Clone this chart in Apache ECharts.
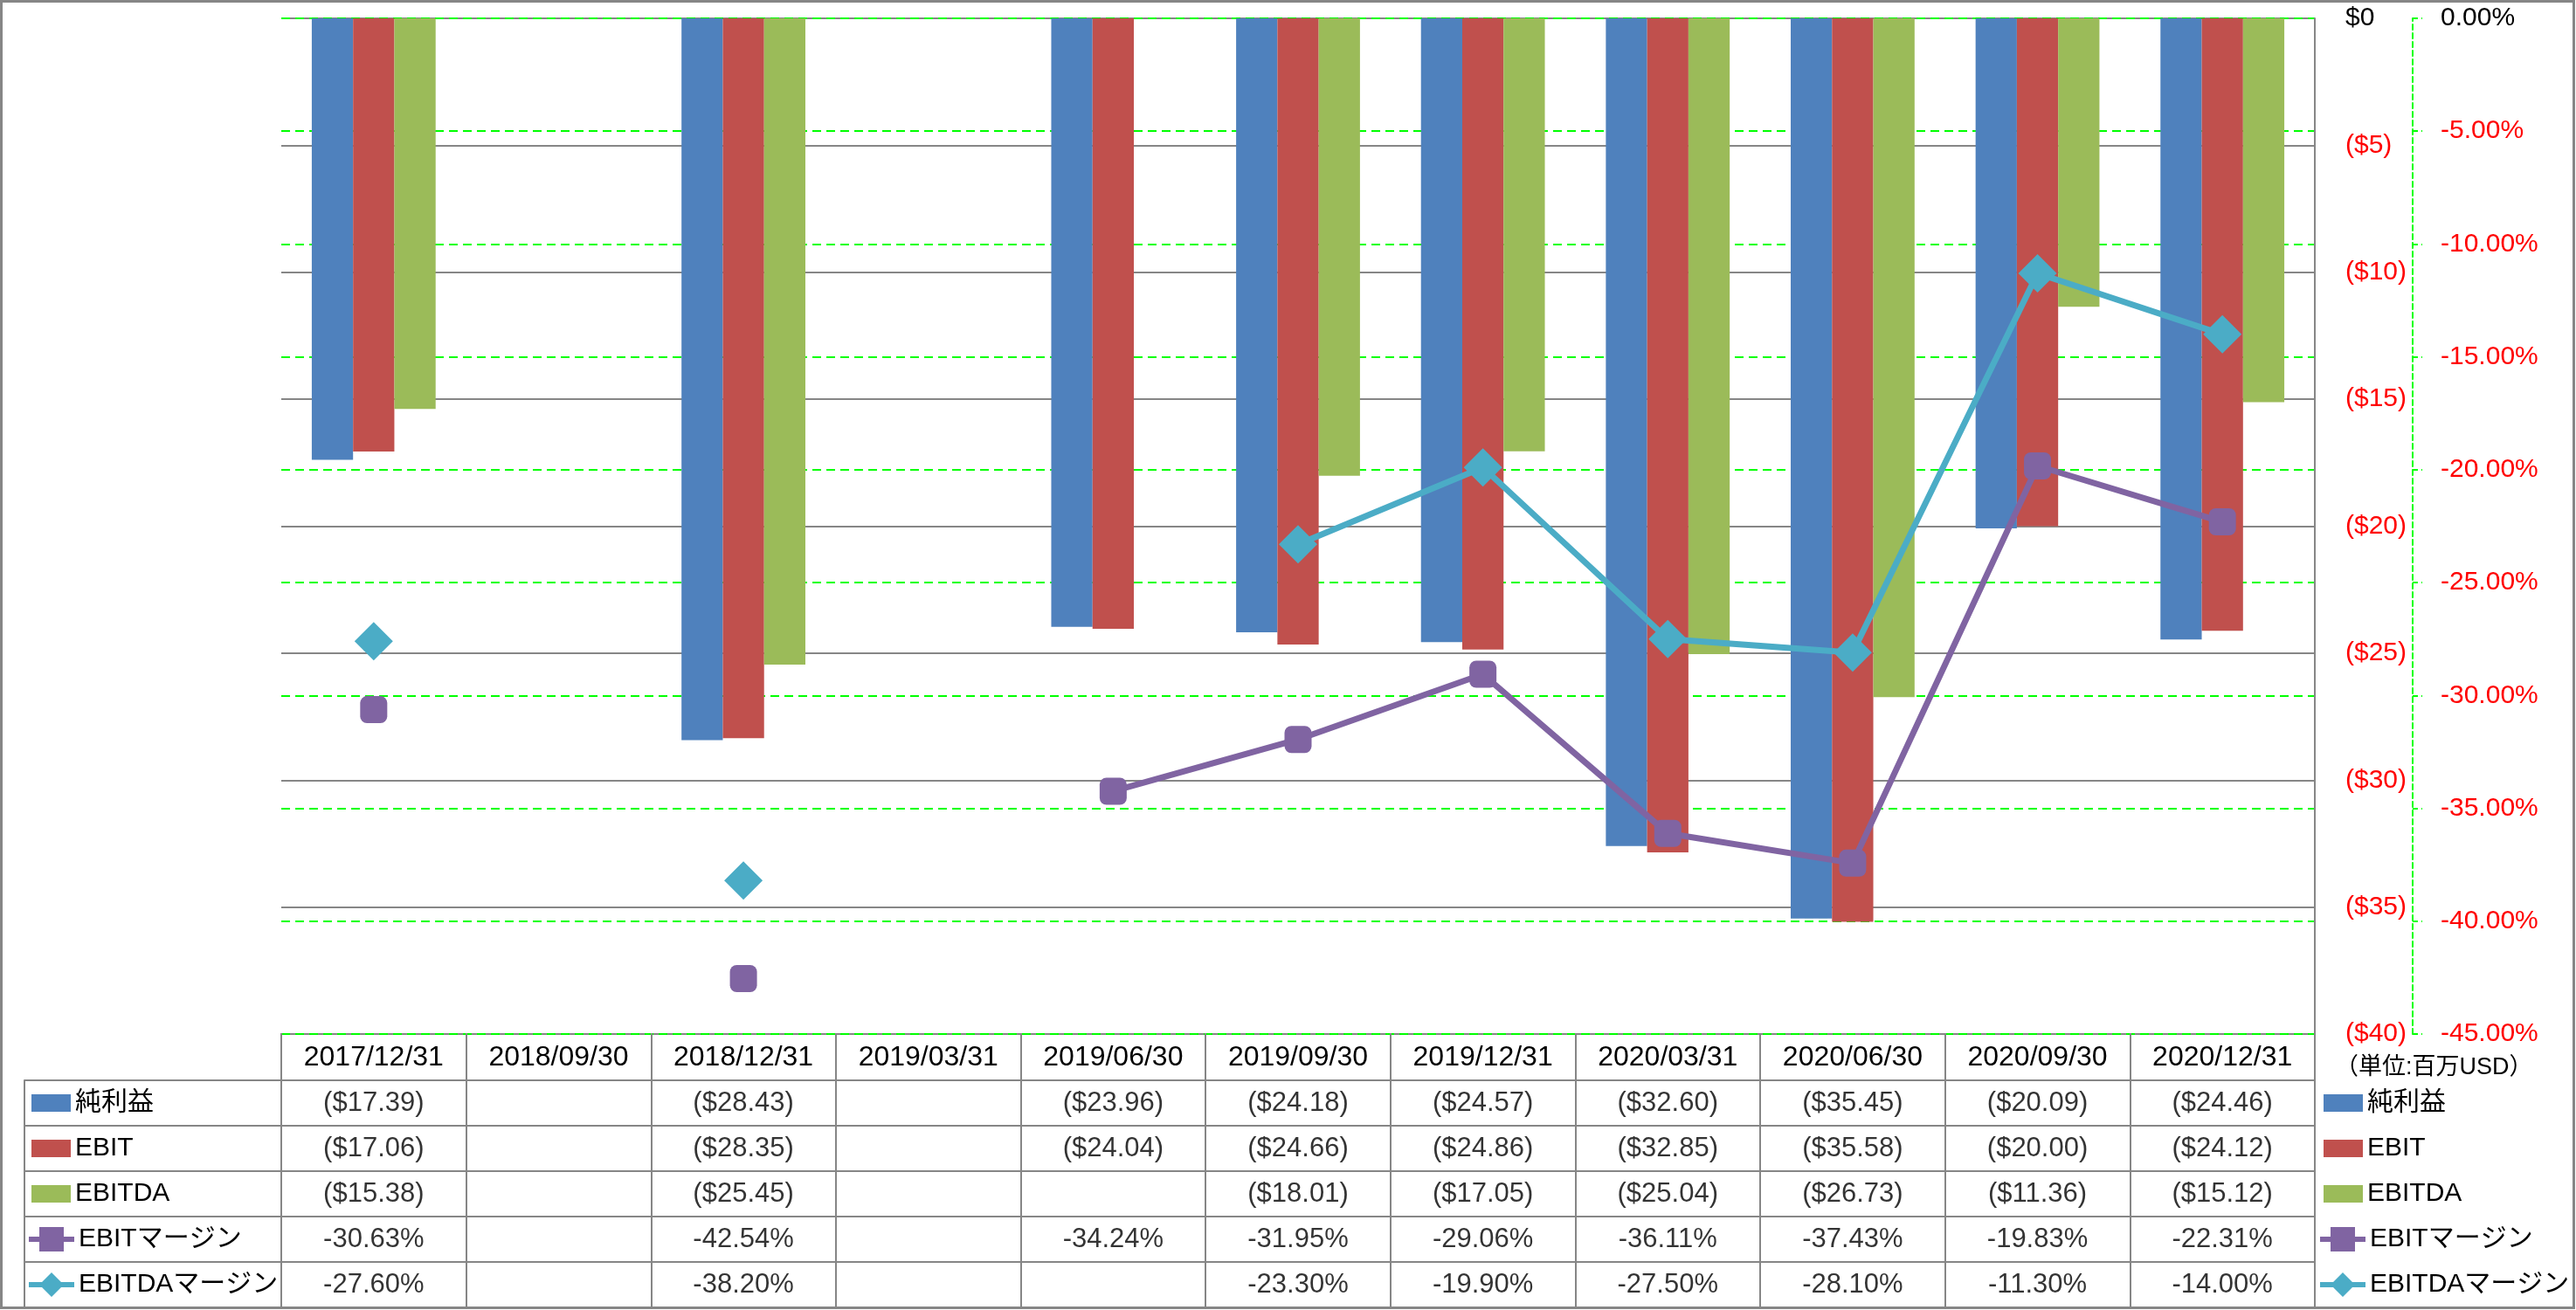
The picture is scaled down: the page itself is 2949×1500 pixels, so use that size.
<!DOCTYPE html>
<html>
<head>
<meta charset="utf-8">
<script src="https://cdn.jsdelivr.net/npm/echarts@6/dist/echarts.min.js"></script>
<style>
  html, body { margin: 0; padding: 0; background: #fff; }
  #chart { width: 2949px; height: 1500px; }
</style>
</head>
<body>
<div id="chart"></div>
<script>
const categories = ['2017/12/31', '2018/09/30', '2018/12/31', '2019/03/31', '2019/06/30', '2019/09/30',
  '2019/12/31', '2020/03/31', '2020/06/30', '2020/09/30', '2020/12/31']
const netIncome = [-17.39, null, -28.43, null, -23.96, -24.18, -24.57, -32.60, -35.45, -20.09, -24.46]
const ebit = [-17.06, null, -28.35, null, -24.04, -24.66, -24.86, -32.85, -35.58, -20.00, -24.12]
const ebitda = [-15.38, null, -25.45, null, null, -18.01, -17.05, -25.04, -26.73, -11.36, -15.12]
const ebitMargin = [-30.63, null, -42.54, null, -34.24, -31.95, -29.06, -36.11, -37.43, -19.83, -22.31]
const ebitdaMargin = [-27.60, null, -38.20, null, null, -23.30, -19.90, -27.50, -28.10, -11.30, -14.00]
const seriesNames = ['純利益', 'EBIT', 'EBITDA', 'EBITマージン', 'EBITDAマージン']
const unitLabel = '（単位:百万USD）'

const FONT = '"Liberation Sans", "Noto Sans CJK JP", sans-serif'
const GRAY = '#868686'
const GREEN = '#00FF00'

const money = v => v < 0 ? '($' + Math.abs(v).toFixed(2) + ')' : '$' + v.toFixed(2)
const pct = v => v.toFixed(2) + '%'

// table cells: one text per (column, row)
const tableRows = [
  [netIncome, money], [ebit, money], [ebitda, money], [ebitMargin, pct], [ebitdaMargin, pct]
]
const tableCells = []
tableRows.forEach(([arr, fmt], r) => {
  arr.forEach((v, c) => {
    if (v !== null) tableCells.push({ value: [c, r], txt: fmt(v) })
  })
})

// legend icons for the line series: line through a square / diamond
const squareIcon = 'path://M0,11L12,11L12,0L40,0L40,11L52,11L52,17L40,17L40,28L12,28L12,17L0,17Z'
const diamondIcon = 'path://M0,11L15,11L26,0L37,11L52,11L52,17L37,17L26,28L15,17L0,17Z'

const barLegend = {
  orient: 'vertical', itemWidth: 45, itemHeight: 20, itemGap: 22, top: 1248, padding: 0,
  data: seriesNames.slice(0, 3).map(n => ({ name: n, icon: 'rect' })),
  textStyle: { fontSize: 30, fontFamily: FONT, color: '#000' },
  selectedMode: false
}
const lineLegend = {
  orient: 'vertical', itemWidth: 52, itemHeight: 28, itemGap: 22, top: 1404, padding: 0,
  data: [{ name: seriesNames[3], icon: squareIcon }, { name: seriesNames[4], icon: diamondIcon }],
  textStyle: { fontSize: 30, fontFamily: FONT, color: '#000' },
  selectedMode: false
}

const chart = echarts.init(document.getElementById('chart'))
chart.setOption({
  animation: false,
  textStyle: { fontFamily: FONT },
  title: {
    text: unitLabel,
    left: 2668,
    top: 1204,
    textStyle: { fontSize: 27, fontWeight: 'normal', color: '#000', fontFamily: FONT }
  },
  legend: [
    Object.assign({ left: 36 }, barLegend),
    Object.assign({ left: 33 }, lineLegend),
    Object.assign({ left: 2660 }, barLegend),
    Object.assign({ left: 2656 }, lineLegend)
  ],
  grid: [
    { left: 322, right: 299, top: 21, height: 1163 },
    { left: 322, right: 299, top: 1237, height: 260, show: true, borderColor: GRAY, borderWidth: 2 }
  ],
  xAxis: [
    {
      type: 'category', gridIndex: 0, data: categories,
      axisLine: { show: false }, axisTick: { show: false }, axisLabel: { show: false }
    },
    {
      type: 'category', gridIndex: 1, data: categories, position: 'top',
      axisLine: { show: true, lineStyle: { color: GRAY, width: 2 } },
      axisTick: { show: true, length: 54, interval: 0, lineStyle: { color: GRAY, width: 2 } },
      axisLabel: { interval: 0, fontSize: 32, color: '#000', margin: 10, fontFamily: FONT },
      splitLine: { show: true, interval: 0, lineStyle: { color: GRAY, width: 2 } }
    }
  ],
  yAxis: [
    {
      type: 'value', gridIndex: 0, position: 'right', min: -40, max: 0, interval: 5,
      axisLine: { show: true, lineStyle: { color: GRAY, width: 2 } },
      axisTick: { show: false },
      splitLine: { show: true, lineStyle: { color: GRAY, width: 2 } },
      axisLabel: {
        margin: 35, fontSize: 30, fontFamily: FONT,
        formatter: v => v < 0 ? '($' + Math.abs(v) + ')' : '$' + v,
        color: v => (v < 0 ? '#FF0000' : '#000')
      }
    },
    {
      type: 'value', gridIndex: 0, position: 'right', offset: 112, min: -45, max: 0, interval: 5,
      axisLine: { show: true, lineStyle: { color: GREEN, width: 2, type: [6, 4] } },
      axisTick: { show: true, length: 11, lineStyle: { color: GREEN, width: 2, type: [6, 4] } },
      splitLine: { show: true, lineStyle: { color: GREEN, width: 2, type: [10, 6] } },
      axisLabel: {
        margin: 32, fontSize: 30, fontFamily: FONT,
        formatter: v => v.toFixed(2) + '%',
        color: v => (v < 0 ? '#FF0000' : '#000')
      }
    },
    {
      type: 'category', gridIndex: 1, inverse: true, data: seriesNames,
      axisLine: { show: true, lineStyle: { color: GRAY, width: 2 } },
      axisTick: { show: true, length: 294, interval: 0, lineStyle: { color: GRAY, width: 2 } },
      axisLabel: { show: false },
      splitLine: { show: true, interval: 0, lineStyle: { color: GRAY, width: 2 } }
    },
    {
      type: 'category', gridIndex: 1, inverse: true, data: seriesNames, position: 'left', offset: 294,
      axisLine: { show: true, lineStyle: { color: GRAY, width: 2 } },
      axisTick: { show: false }, axisLabel: { show: false }
    }
  ],
  series: [
    {
      name: seriesNames[0], type: 'bar', data: netIncome, barGap: '0%', barCategoryGap: '33%',
      itemStyle: { color: '#4F81BD' }, emphasis: { disabled: true }
    },
    {
      name: seriesNames[1], type: 'bar', data: ebit,
      itemStyle: { color: '#C0504D' }, emphasis: { disabled: true }
    },
    {
      name: seriesNames[2], type: 'bar', data: ebitda,
      itemStyle: { color: '#9BBB59' }, emphasis: { disabled: true }
    },
    {
      name: seriesNames[3], type: 'line', yAxisIndex: 1, data: ebitMargin,
      symbol: 'roundRect', symbolSize: 31, showAllSymbol: true, connectNulls: false,
      itemStyle: { color: '#8064A2' }, lineStyle: { color: '#8064A2', width: 7 },
      emphasis: { disabled: true }
    },
    {
      name: seriesNames[4], type: 'line', yAxisIndex: 1, data: ebitdaMargin,
      symbol: 'diamond', symbolSize: 44, showAllSymbol: true, connectNulls: false,
      itemStyle: { color: '#4BACC6' }, lineStyle: { color: '#4BACC6', width: 7 },
      emphasis: { disabled: true }
    },
    {
      // data table text
      type: 'scatter', xAxisIndex: 1, yAxisIndex: 2, data: tableCells,
      symbolSize: 1, itemStyle: { color: 'rgba(0,0,0,0)' }, silent: true,
      label: {
        show: true, position: 'inside', fontSize: 31, color: '#000', fontFamily: FONT,
        formatter: p => p.data.txt
      }
    }
  ],
  graphic: [
    {
      type: 'rect', silent: true, z: 100,
      shape: { x: 1.5, y: 1.5, width: 2945, height: 1496 },
      style: { fill: 'none', stroke: GRAY, lineWidth: 3 }
    }
  ]
})
window.addEventListener('resize', function () {
  chart.resize()
})
</script>
</body>
</html>
